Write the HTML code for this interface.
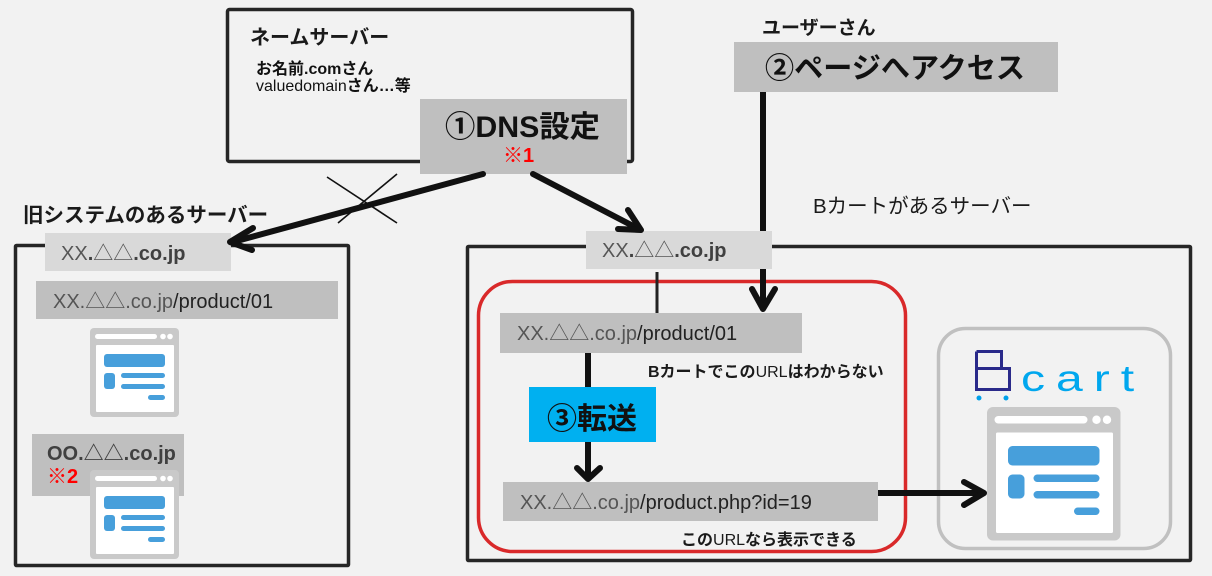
<!DOCTYPE html>
<html><head><meta charset="utf-8"><style>
html,body{margin:0;padding:0;background:#f2f2f2;}
svg{display:block;}
text{font-family:"Liberation Sans","Noto Sans CJK JP",sans-serif;}
</style></head><body>
<svg width="1212" height="576" viewBox="0 0 1212 576" xmlns="http://www.w3.org/2000/svg">
<defs>
<g id="br">
<rect x="0" y="0" width="89" height="89" rx="4" fill="#c9c9c9"/>
<rect x="5" y="6" width="62" height="5" rx="2.5" fill="#fff"/>
<circle cx="73" cy="8.5" r="2.8" fill="#fff"/>
<circle cx="80" cy="8.5" r="2.8" fill="#fff"/>
<rect x="6" y="17" width="78" height="67" rx="1" fill="#fff"/>
<g fill="#479fdb">
<rect x="14" y="26" width="61" height="13" rx="3"/>
<rect x="14" y="45" width="11" height="16" rx="3"/>
<rect x="31" y="45" width="44" height="5" rx="2.5"/>
<rect x="31" y="56" width="44" height="5" rx="2.5"/>
<rect x="58" y="67" width="17" height="5" rx="2.5"/>
</g>
</g>
</defs>
<rect width="1212" height="576" fill="#f2f2f2"/>

<!-- server boxes -->
<rect x="227.5" y="9.5" width="405" height="152" rx="2" fill="none" stroke="#262626" stroke-width="3.5"/>
<rect x="15.5" y="245.5" width="333" height="320" rx="1" fill="none" stroke="#262626" stroke-width="3.5"/>
<rect x="467.5" y="246.5" width="723" height="314" rx="1" fill="none" stroke="#262626" stroke-width="3.5"/>

<!-- red rounded rect -->
<rect x="478.5" y="281.5" width="427" height="270" rx="34" fill="none" stroke="#d9292a" stroke-width="3.5"/>
<!-- bcart rounded rect -->
<rect x="938.5" y="328.5" width="232" height="220" rx="27" fill="none" stroke="#c0c0c0" stroke-width="3.5"/>

<!-- user arrow line (under box) -->
<line x1="763" y1="80" x2="763" y2="306" stroke="#111" stroke-width="6"/>
<polyline points="752,289 763,309 775,289" fill="none" stroke="#111" stroke-width="6" stroke-linecap="round" stroke-linejoin="round"/>
<!-- thin line -->
<line x1="657" y1="272" x2="657" y2="313" stroke="#222" stroke-width="3"/>

<!-- label texts name server -->
<text x="250" y="44" font-size="20" font-weight="bold" fill="#1a1a1a">ネームサーバー</text>
<text x="256" y="74" font-size="16" font-weight="bold" fill="#111">お名前.comさん</text>
<text x="256" y="91" font-size="16" fill="#111">valuedomain<tspan font-weight="bold">さん…等</tspan></text>

<!-- DNS box -->
<rect x="420" y="99" width="207" height="75" fill="#bfbfbf"/>
<text x="445" y="137" font-size="30" font-weight="bold" fill="#111" textLength="155" lengthAdjust="spacingAndGlyphs">①DNS設定</text>
<text x="503" y="162" font-size="20" font-weight="bold" fill="#ff0000">※1</text>

<!-- user -->
<text x="762" y="34" font-size="19" font-weight="bold" fill="#1a1a1a">ユーザーさん</text>
<rect x="734" y="42" width="324" height="50" fill="#bfbfbf"/>
<text x="765" y="78" font-size="29" font-weight="bold" fill="#111" textLength="260" lengthAdjust="spacingAndGlyphs">②ページへアクセス</text>

<text x="813" y="213" font-size="20.5" fill="#1a1a1a">Bカートがあるサーバー</text>
<text x="23" y="222" font-size="20.5" font-weight="bold" fill="#1a1a1a">旧システムのあるサーバー</text>

<!-- left server content -->
<rect x="45" y="233" width="186" height="38" fill="#d9d9d9"/>
<text x="61" y="260" font-size="20" fill="#555"><tspan>XX</tspan><tspan font-weight="bold" fill="#404040">.</tspan>△△<tspan font-weight="bold" fill="#404040">.co.jp</tspan></text>
<rect x="36" y="281" width="302" height="38" fill="#bfbfbf"/>
<text x="53" y="308" font-size="20" fill="#555">XX.△△.co.jp<tspan fill="#222">/product/01</tspan></text>
<use href="#br" x="90" y="328"/>
<rect x="32" y="434" width="152" height="62" fill="#bfbfbf"/>
<text x="47" y="460" font-size="20" font-weight="bold" fill="#404040">OO.△△.co.jp</text>
<text x="47" y="483" font-size="20" font-weight="bold" fill="#ff0000">※2</text>
<use href="#br" x="90" y="470"/>

<!-- right server content -->
<rect x="586" y="231" width="186" height="38" fill="#d9d9d9"/>
<text x="602" y="257" font-size="20" fill="#555"><tspan>XX</tspan><tspan font-weight="bold" fill="#404040">.</tspan>△△<tspan font-weight="bold" fill="#404040">.co.jp</tspan></text>
<rect x="500" y="313" width="302" height="40" fill="#bfbfbf"/>
<text x="517" y="340" font-size="20" fill="#555">XX.△△.co.jp<tspan fill="#222">/product/01</tspan></text>
<text x="648" y="377" font-size="16" font-weight="bold" fill="#1a1a1a">Bカートでこの<tspan font-weight="normal">URL</tspan>はわからない</text>

<!-- transfer arrow -->
<line x1="588" y1="353" x2="588" y2="478" stroke="#111" stroke-width="6"/>
<polyline points="577,468 588,479 600,468" fill="none" stroke="#111" stroke-width="6" stroke-linecap="round" stroke-linejoin="round"/>
<rect x="529" y="387" width="127" height="55" fill="#00b0f0"/>
<text x="547" y="429" font-size="30" font-weight="bold" fill="#111">③転送</text>

<rect x="503" y="482" width="375" height="39" fill="#bfbfbf"/>
<text x="520" y="509" font-size="20" fill="#555">XX.△△.co.jp<tspan fill="#222">/product.php?id=19</tspan></text>
<text x="681" y="545" font-size="16" font-weight="bold" fill="#1a1a1a">この<tspan font-weight="normal">URL</tspan>なら表示できる</text>

<!-- horizontal arrow -->
<line x1="878" y1="493" x2="982" y2="493" stroke="#111" stroke-width="6"/>
<polyline points="964,482 984,493 964,505" fill="none" stroke="#111" stroke-width="6" stroke-linecap="round" stroke-linejoin="round"/>

<!-- bcart logo -->
<g fill="none" stroke="#2a2a8a" stroke-width="3">
<path d="M976.5,351.5 L1001.5,351.5 L1001.5,368.5 M976.5,351.5 L976.5,389.5 L1009.5,389.5 L1009.5,368.5 L976.5,368.5"/>
</g>
<circle cx="979" cy="398" r="2.5" fill="#00a0e9"/>
<circle cx="1006" cy="398" r="2.5" fill="#00a0e9"/>
<g transform="translate(1021,391) scale(1.3,1)">
<text x="0" y="0" font-size="37" fill="#00a7ee" textLength="87" lengthAdjust="spacing">cart</text>
</g>
<use href="#br" transform="translate(987,407) scale(1.5)"/>

<!-- DNS arrows -->
<line x1="483" y1="174" x2="233" y2="242" stroke="#111" stroke-width="6" stroke-linecap="round"/>
<polyline points="253,228 230,242 252,250" fill="none" stroke="#111" stroke-width="6" stroke-linecap="round" stroke-linejoin="round"/>
<line x1="533" y1="174" x2="639" y2="229" stroke="#111" stroke-width="6" stroke-linecap="round"/>
<polyline points="628,210 641,230 618,229" fill="none" stroke="#111" stroke-width="6" stroke-linecap="round" stroke-linejoin="round"/>
<!-- cross -->
<line x1="327" y1="177" x2="397" y2="223" stroke="#111" stroke-width="1.6"/>
<line x1="397" y1="174" x2="338" y2="223" stroke="#111" stroke-width="1.6"/>
</svg>
</body></html>
